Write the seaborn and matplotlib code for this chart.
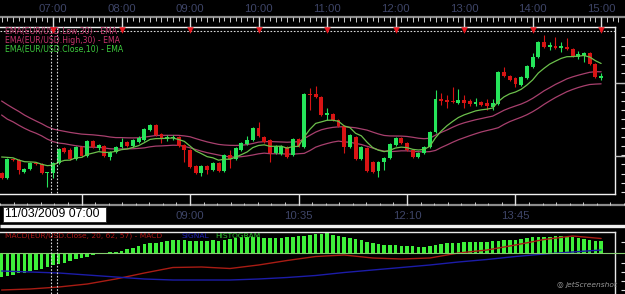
import numpy as np
import pandas as pd
import matplotlib
matplotlib.use("Agg")
import matplotlib.pyplot as plt
from matplotlib.patches import Rectangle
import seaborn as sns

# ---------------- data (EUR/USD, 5-minute candles) ----------------
first_candle = "06:15"
interval_min = 5

open_ = [1.2647,1.2642,1.2661,1.2660,1.2648,1.2651,1.2657,1.2656,1.2647,1.2647,
         1.2657,1.2672,1.2670,1.2661,1.2673,1.2664,1.2679,1.2672,1.2674,1.2663,
         1.2668,1.2673,1.2678,1.2674,1.2678,1.2680,1.2690,1.2695,1.2686,1.2681,
         1.2682,1.2683,1.2675,1.2670,1.2654,1.2647,1.2654,1.2650,1.2657,1.2649,
         1.2665,1.2661,1.2670,1.2676,1.2680,1.2692,1.2683,1.2680,1.2667,1.2666,
         1.2673,1.2665,1.2681,1.2673,1.2726,1.2726,1.2723,1.2705,1.2706,1.2700,
         1.2694,1.2673,1.2683,1.2661,1.2672,1.2658,1.2649,1.2658,1.2662,1.2675,
         1.2682,1.2677,1.2670,1.2663,1.2667,1.2673,1.2688,1.2721,1.2720,1.2719,
         1.2717,1.2720,1.2719,1.2716,1.2718,1.2717,1.2713,1.2716,1.2748,1.2744,
         1.2742,1.2735,1.2742,1.2753,1.2763,1.2778,1.2773,1.2774,1.2772,1.2773,
         1.2771,1.2763,1.2764,1.2767,1.2756,1.2742]
high = [1.2648,1.2662,1.2662,1.2661,1.2652,1.2658,1.2658,1.2657,1.2648,1.2658,
        1.2672,1.2673,1.2672,1.2674,1.2674,1.2680,1.2680,1.2676,1.2675,1.2669,
        1.2674,1.2682,1.2679,1.2681,1.2684,1.2692,1.2696,1.2696,1.2687,1.2685,
        1.2685,1.2684,1.2676,1.2671,1.2655,1.2655,1.2655,1.2658,1.2658,1.2666,
        1.2670,1.2673,1.2678,1.2684,1.2693,1.2698,1.2684,1.2681,1.2675,1.2675,
        1.2674,1.2682,1.2682,1.2727,1.2732,1.2734,1.2724,1.2712,1.2707,1.2701,
        1.2695,1.2686,1.2684,1.2674,1.2673,1.2659,1.2659,1.2663,1.2677,1.2683,
        1.2683,1.2678,1.2671,1.2668,1.2674,1.2689,1.2730,1.2727,1.2725,1.2733,
        1.2731,1.2725,1.2721,1.2722,1.2719,1.2721,1.2721,1.2749,1.2753,1.2745,
        1.2743,1.2744,1.2755,1.2767,1.2779,1.2785,1.2778,1.2783,1.2778,1.2782,
        1.2772,1.2769,1.2768,1.2768,1.2757,1.2747]
low = [1.2641,1.2641,1.2659,1.2646,1.2647,1.2650,1.2655,1.2646,1.2633,1.2642,
       1.2656,1.2667,1.2660,1.2660,1.2663,1.2663,1.2672,1.2670,1.2663,1.2660,
       1.2667,1.2672,1.2673,1.2673,1.2677,1.2679,1.2689,1.2684,1.2677,1.2679,
       1.2680,1.2673,1.2658,1.2652,1.2646,1.2644,1.2646,1.2649,1.2648,1.2648,
       1.2652,1.2660,1.2669,1.2675,1.2679,1.2683,1.2677,1.2658,1.2666,1.2665,
       1.2662,1.2664,1.2673,1.2672,1.2710,1.2722,1.2704,1.2700,1.2699,1.2693,
       1.2667,1.2672,1.2660,1.2660,1.2648,1.2647,1.2643,1.2650,1.2661,1.2674,
       1.2676,1.2669,1.2662,1.2662,1.2666,1.2672,1.2687,1.2715,1.2712,1.2717,
       1.2716,1.2712,1.2714,1.2714,1.2714,1.2710,1.2710,1.2715,1.2743,1.2739,
       1.2733,1.2734,1.2741,1.2752,1.2762,1.2772,1.2770,1.2771,1.2768,1.2770,
       1.2763,1.2761,1.2758,1.2755,1.2742,1.2740]
close = [1.2642,1.2661,1.2660,1.2650,1.2651,1.2657,1.2656,1.2647,1.2648,1.2657,
         1.2671,1.2668,1.2661,1.2673,1.2664,1.2679,1.2673,1.2675,1.2664,1.2668,
         1.2673,1.2678,1.2674,1.2680,1.2682,1.2691,1.2695,1.2685,1.2682,1.2683,
         1.2683,1.2674,1.2670,1.2653,1.2647,1.2654,1.2650,1.2657,1.2649,1.2665,
         1.2661,1.2672,1.2677,1.2680,1.2692,1.2684,1.2678,1.2667,1.2674,1.2674,
         1.2663,1.2681,1.2674,1.2726,1.2725,1.2723,1.2705,1.2707,1.2700,1.2694,
         1.2673,1.2685,1.2661,1.2673,1.2649,1.2648,1.2658,1.2662,1.2676,1.2682,
         1.2677,1.2670,1.2663,1.2667,1.2673,1.2688,1.2721,1.2719,1.2718,1.2718,
         1.2720,1.2717,1.2716,1.2718,1.2715,1.2714,1.2717,1.2748,1.2744,1.2740,
         1.2736,1.2743,1.2754,1.2763,1.2778,1.2773,1.2775,1.2772,1.2774,1.2771,
         1.2764,1.2766,1.2767,1.2756,1.2743,1.2744]

# EMA values at the first visible candle
ema_high30_start = 1.2719
ema_low30_start = 1.2705
ema_close10_start = 1.2663

# MACD(20, 62, 57) in points (1e-5)
macd_hist = [-24, -23, -22, -20, -20, -18, -17, -16, -14, -12,
             -11, -10, -8, -6, -5, -4, -2, -1, 0.3, 0.8,
             1.3, 2.3, 3.7, 5.3, 7, 9, 9.7, 10.3, 11.3, 12.3,
             13, 13, 13, 12.3, 12.3, 12.3, 12.3, 13, 12.3, 13,
             13.7, 14.7, 15.7, 16.3, 15.7, 15.7, 14.7, 14.7, 14.7, 14.7,
             15.7, 16.3, 17, 17.5, 18, 19, 19, 19.7, 18, 17.3,
             16.3, 14.7, 13.7, 13, 11.3, 9.7, 9, 8, 8, 8,
             7, 7, 7, 6.3, 6.3, 7, 8, 9, 9.7, 10.3,
             10.3, 11.3, 11.3, 11.3, 11.3, 11.3, 12, 12.3, 13, 13,
             13, 13.7, 14.7, 16, 16, 16.3, 16.3, 17, 17, 16.3,
             16, 15, 14, 13, 12.3, 12]
macd_idx = [0, 5, 10, 15, 20, 25, 30, 35, 40, 45, 50, 55, 60, 65, 70, 75, 80, 85, 90, 95, 100, 105]
macd_line = [-37, -36, -34, -31, -26, -20, -14.5, -14, -15.5, -12, -7.5, -3.5,
             -2, -5, -6, -5, 0, 3, 8, 13.5, 17, 14.5]
signal_line = [-18, -19, -20, -22, -24, -26, -27, -27, -27, -26, -24.5, -22.5,
               -19.5, -17, -14.5, -12, -9, -6.5, -3.5, -1, 1, 3]

top_hours = ["07:00", "08:00", "09:00", "10:00", "11:00", "12:00", "13:00", "14:00", "15:00"]
bottom_ticks = ["07:25", "09:00", "10:35", "12:10", "13:45"]
bottom_labels = ["", "09:00", "10:35", "12:10", "13:45"]   # 07:25 is hidden by the cursor box
cursor_label = "11/03/2009 07:00"
cursor_idx = [8.6, 9.65]

ema_labels = ["EMA(EUR/USD.Low,30) - EMA", "EMA(EUR/USD.High,30) - EMA", "EMA(EUR/USD.Close,10) - EMA"]
macd_labels = ["MACD(EUR/USD.Close, 20, 62, 57) - MACD", "SIGNAL", "HISTOGRAM"]

# ---------------- helpers ----------------
def idx_of(hhmm):
    h0, m0 = map(int, first_candle.split(":"))
    h, m = map(int, hhmm.split(":"))
    return ((h * 60 + m) - (h0 * 60 + m0)) / interval_min

def seeded_ema(values, span, start):
    s = pd.Series([start] + list(values[1:]))
    return s.ewm(span=span, adjust=False).mean().to_numpy()

sns.set_theme(style="dark", rc={"axes.facecolor": "black", "figure.facecolor": "black"})
plt.rcParams["font.family"] = ["DejaVu Sans"]

W, H = 625, 294
fig = plt.figure(figsize=(6.25, 2.94), dpi=100, facecolor="black")

def axes_px(x0, y0, x1, y1, **kw):
    return fig.add_axes([x0 / W, 1 - y1 / H, (x1 - x0) / W, (y1 - y0) / H], **kw)

XL, XR = -0.28, 107.43
PANEL_R = 615
ppx = (XR - XL) / PANEL_R
XR2 = XL + ppx * W

def px2x(px):
    return XL + px * ppx

GREEN = "#25e45a"
RED = "#d81414"
PINK = "#a8406e"
EMA_GREEN = "#6cc04c"
AXIS_TXT = "#3e4568"

n = len(close)
xi = np.arange(n)
o = np.array(open_); c = np.array(close); hi = np.array(high); lo = np.array(low)

# ---------------- main price panel ----------------
ax = axes_px(0, 27, PANEL_R, 194)
ax.set_facecolor("black")
ema_h = seeded_ema(high, 30, ema_high30_start)
ema_l = seeded_ema(low, 30, ema_low30_start)
ema_c = seeded_ema(close, 10, ema_close10_start)
sns.lineplot(x=xi, y=ema_h, ax=ax, color=PINK, lw=0.9, zorder=2)
sns.lineplot(x=xi, y=ema_l, ax=ax, color=PINK, lw=0.9, zorder=2)

up = c >= o
cols = np.where(up, GREEN, RED)
ax.vlines(xi, lo, hi, colors=cols, lw=0.8, zorder=3)
body_b = np.minimum(o, c)
body_h = np.maximum(np.abs(c - o), 0.00011)
ax.bar(xi, body_h, bottom=body_b, width=0.68, color=cols, linewidth=0, zorder=4)
sns.lineplot(x=xi, y=ema_c, ax=ax, color=EMA_GREEN, lw=0.9, zorder=5)

ax.set_xlim(XL, XR)
ax.set_ylim(1.2626, 1.2793)
ax.set_xticks([]); ax.set_yticks([])
ax.set_xlabel(""); ax.set_ylabel("")
ax.grid(False)
for s in ["top", "right", "bottom"]:
    ax.spines[s].set_color("#f0f0f0"); ax.spines[s].set_linewidth(1.0); ax.spines[s].set_visible(True)
ax.spines["left"].set_visible(False)

# ---------------- MACD panel ----------------
axm = axes_px(0, 232, PANEL_R, 294)
axm.set_facecolor("black")
sns.barplot(x=xi, y=macd_hist, native_scale=True, width=0.62, color="#3ef03a",
            saturation=1, errorbar=None, linewidth=0, ax=axm, zorder=2)
sns.lineplot(x=macd_idx, y=macd_line, ax=axm, color="#a81c14", lw=1.0, zorder=3)
sns.lineplot(x=macd_idx, y=signal_line, ax=axm, color="#1c1ca8", lw=1.0, zorder=3)
axm.set_xlim(XL, XR)
axm.set_ylim(-41, 21)
axm.set_xticks([]); axm.set_yticks([])
axm.set_xlabel(""); axm.set_ylabel("")
axm.grid(False)
for s in ["top", "right"]:
    axm.spines[s].set_color("#e8e8e8"); axm.spines[s].set_linewidth(1.0); axm.spines[s].set_visible(True)
axm.spines["left"].set_visible(False); axm.spines["bottom"].set_visible(False)

# ---------------- overlay (axes decorations) ----------------
ov = axes_px(0, 0, W, H)
ov.set_xlim(XL, XR2); ov.set_ylim(H, 0)
ov.axis("off"); ov.patch.set_alpha(0)

GRAY = "#8c8c8c"
# top time axis
ov.hlines(17, XL, XR2, color=GRAY, lw=1.6)
for k in range(-1, 109):
    ov.vlines(k, 17, 20.5 if k % 2 else 21.5, color="#cfcfcf", lw=0.7)
hour_x = [idx_of(h) for h in top_hours]
ov.vlines(hour_x, 17, 27, color="#e0e0e0", lw=1)
for hx, lab in zip(hour_x, top_hours):
    ov.text(hx, 8.6, lab, ha="center", va="center", color=AXIS_TXT, fontsize=8.2,
            family=["Liberation Sans", "DejaVu Sans"])
ov.hlines(31, XL, px2x(PANEL_R), colors="#d8d8d8", linestyles=(0, (1.5, 1.5)), lw=0.8)
ov.scatter(hour_x, [30.3] * len(hour_x), marker="v", s=22, color="#e8141c", linewidths=0, zorder=5)

# cursor dashed lines
for cx in cursor_idx:
    ov.vlines(cx, 28, 194, colors="#d8d8d8", linestyles=(0, (1.5, 1.5)), lw=0.8)
    ov.vlines(cx, 232, 294, colors="#d8d8d8", linestyles=(0, (1.5, 1.5)), lw=0.8)

# EMA legend
for k, (lab, colr) in enumerate(zip(ema_labels, ["#c23a6e", "#c8346e", "#3ecc3e"])):
    ov.text(px2x(5), 31.5 + 9 * k, lab, ha="left", va="center", color=colr, fontsize=5.6)

# bottom time axis
ov.hlines(205, XL, XR2, color=GRAY, lw=1.6)
b_x = [idx_of(b) for b in bottom_ticks]
step = (b_x[1] - b_x[0]) / 8
for k in range(-8, 48):
    tx = b_x[0] + k * step
    if XL <= tx <= XR2:
        ov.vlines(tx, 201.5 if k % 2 else 202.5, 205, color="#cfcfcf", lw=0.7)
ov.vlines(b_x, 194, 205, color="#e0e0e0", lw=1)
for bx, lab in zip(b_x, bottom_labels):
    if lab:
        ov.text(bx, 216, lab, ha="center", va="center", color=AXIS_TXT, fontsize=8.2,
                family=["Liberation Sans", "DejaVu Sans"])
ov.add_patch(Rectangle((px2x(2.5), 206.5), 103 * ppx, 15, facecolor="white",
                       edgecolor="#222222", lw=0.6, zorder=6))
ov.text(px2x(5), 214.3, cursor_label, ha="left", va="center", color="black", fontsize=8.8,
        family=["Liberation Sans", "DejaVu Sans"], zorder=7)

# separator between panels
ov.hlines(225.8, XL, XR2, color="#f0f0f0", lw=2.4)

# MACD legend
mx = [5, 181, 215]
for lab, colr, px in zip(macd_labels, ["#b01818", "#2020b8", "#30c030"], mx):
    ov.text(px2x(px), 236, lab, ha="left", va="center", color=colr, fontsize=5.4, zorder=4)

# right-side price scale stubs
for yy in np.arange(37, 192, 9.1):
    ov.hlines(yy, px2x(621), px2x(625), color="#dddddd", lw=0.8)
ov.hlines([82.7, 155.7], px2x(PANEL_R), px2x(625), color="#bbbbbb", lw=1)
for yy in [241.7, 262.7, 271.7, 280.7, 289.7]:
    ov.hlines(yy, px2x(621), px2x(625), color="#dddddd", lw=0.8)
ov.hlines(252.7, px2x(0), px2x(625), color="#86cc70", lw=0.8, zorder=1)

# watermark
ov.text(px2x(566), 285, "jetScreenshot", ha="left", va="center", color="#9a9a9a",
        fontsize=5.4, style="italic")
ov.text(px2x(560), 285, "\u25CE", ha="center", va="center", color="#9a9a9a", fontsize=5.5)

fig.savefig("out.png", dpi=100, facecolor="black")
